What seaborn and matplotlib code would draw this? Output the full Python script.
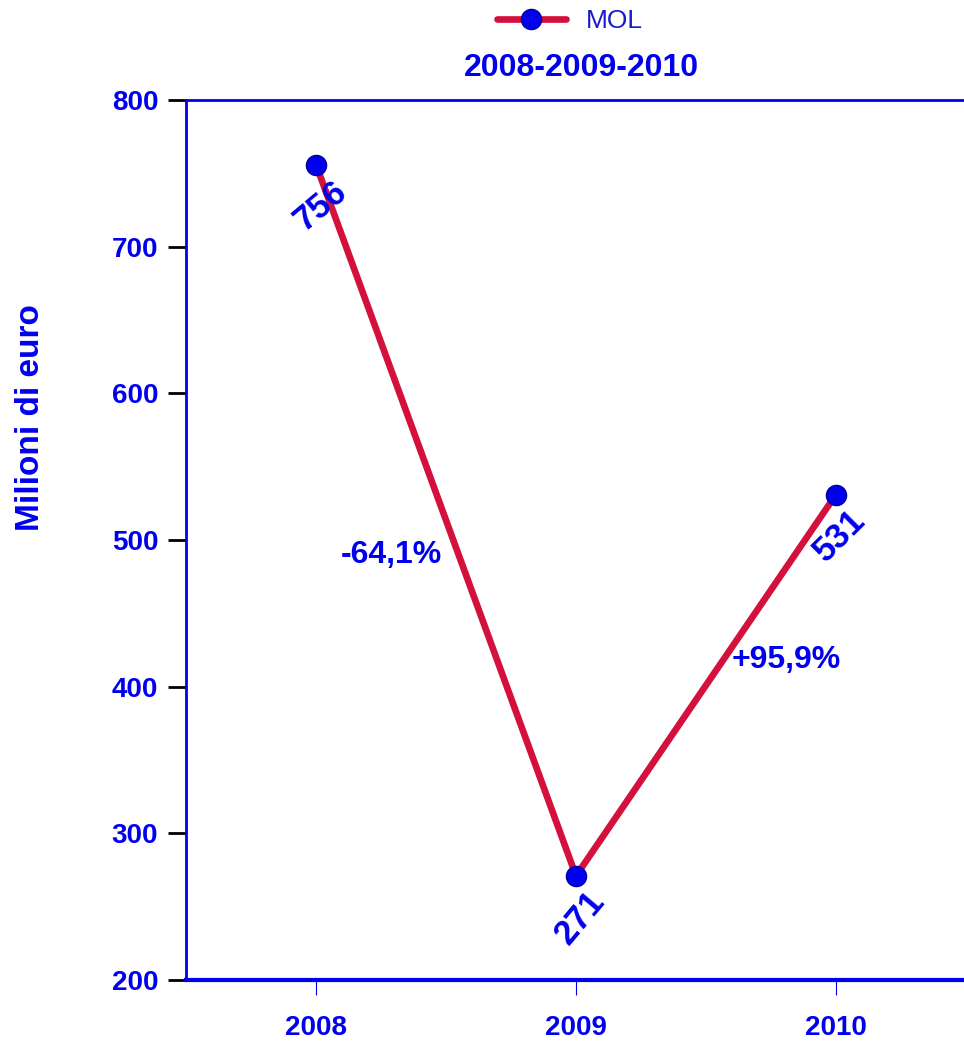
import matplotlib
matplotlib.use("Agg")
import matplotlib.pyplot as plt
from matplotlib.lines import Line2D
import seaborn as sns
import pandas as pd

years = ["2008", "2009", "2010"]
mol_values = [756, 271, 531]
change_labels = ["-64,1%", "+95,9%"]
y_ticks = [200, 300, 400, 500, 600, 700, 800]

BLUE = "#0000ee"
RED = "#d4103c"

sns.set_theme(style="white")
plt.rcParams["font.family"] = ["Liberation Sans", "DejaVu Sans"]

df = pd.DataFrame({"x": range(len(years)), "value": mol_values})

fig = plt.figure(figsize=(9.64, 10.44), dpi=100)
ax = fig.add_axes([186 / 964, 64 / 1044, 780 / 964, 880 / 1044])

sns.lineplot(data=df, x="x", y="value", ax=ax, color=RED, linewidth=4.8,
             marker="o", markersize=14.5, markerfacecolor=BLUE,
             markeredgecolor="#0000a0", markeredgewidth=1.0)

ax.set_xlim(-0.5, 2.5)
ax.set_ylim(200, 800)
ax.set_xticks(range(len(years)))
ax.set_xticklabels(years)
ax.set_yticks(y_ticks)

for side in ["left", "top", "bottom"]:
    ax.spines[side].set_color(BLUE)
    ax.spines[side].set_linewidth(2)
ax.spines["bottom"].set_linewidth(3)
ax.spines["right"].set_visible(False)

ax.tick_params(axis="y", colors="black", length=13, width=2, pad=7,
               labelcolor=BLUE, labelsize=20)
ax.tick_params(axis="x", colors=BLUE, length=11, width=0.8, pad=14,
               labelcolor=BLUE, labelsize=20)
ax.tick_params(left=True, bottom=True)
for lbl in ax.get_xticklabels() + ax.get_yticklabels():
    lbl.set_fontweight("bold")

ax.set_xlabel("")
ax.set_ylabel("Milioni di euro", color=BLUE, fontsize=24, fontweight="bold")
ax.yaxis.set_label_coords(-0.179, 0.639)

# value labels under each point
label_angles = [40, 50, 45]
for i, v in enumerate(mol_values):
    ax.annotate(str(v), (i, v), xytext=(3, -30), textcoords="offset points",
                ha="center", va="center", rotation=label_angles[i],
                color=BLUE, fontsize=25, fontweight="bold")

# percentage change between consecutive years
ax.text(0.29, 490, change_labels[0], color=BLUE, fontsize=23,
        fontweight="bold", ha="center", va="center")
ax.text(1.81, 418, change_labels[1], color=BLUE, fontsize=23,
        fontweight="bold", ha="center", va="center")

# title and legend
fig.text(581 / 964, 1 - 68 / 1044, "2008-2009-2010", color=BLUE, fontsize=23,
         fontweight="bold", ha="center", va="center")
handle = Line2D([], [], color=RED, linewidth=4.8, marker="o", markersize=14.5,
                markerfacecolor=BLUE, markeredgecolor="#0000a0")
fig.legend([handle], ["MOL"], loc="center left",
           bbox_to_anchor=(497 / 964, 1 - 21 / 1044), borderaxespad=0,
           borderpad=0, frameon=False, fontsize=19, handlelength=2.6,
           handletextpad=0.75, labelcolor="#1a1acc")

fig.savefig("out.png", dpi=100, facecolor="white")
